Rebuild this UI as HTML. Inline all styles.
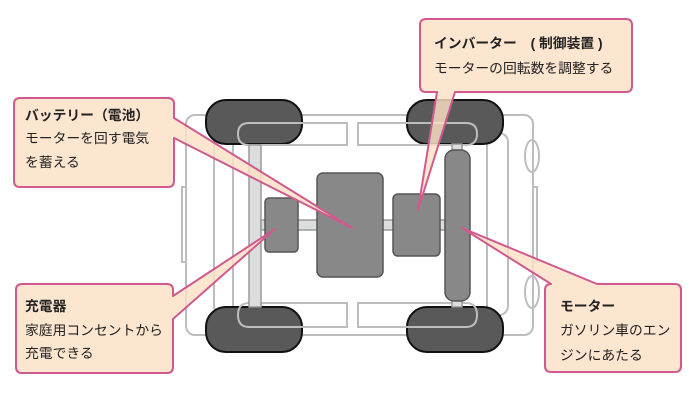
<!DOCTYPE html>
<html><head><meta charset="utf-8"><style>
html,body{margin:0;padding:0;background:#fff;}
svg{display:block;}
text{font-family:"Liberation Sans","Noto Sans CJK JP",sans-serif;font-size:13.8px;fill:#222;}
.b{font-weight:bold;}
</style></head><body>
<svg width="689" height="409" viewBox="0 0 689 409" xmlns="http://www.w3.org/2000/svg">
<g fill="none" stroke="#bdbdbd" stroke-width="2">
<rect x="186" y="115" width="347" height="220" rx="9"/>
<rect x="182" y="187" width="4" height="75"/>
<rect x="533" y="187" width="4" height="75"/>
<rect x="214" y="133" width="19" height="182" rx="9"/>
<rect x="487" y="133" width="21" height="182" rx="9"/>
<ellipse cx="532" cy="156" rx="7" ry="16"/>
<ellipse cx="532" cy="292" rx="7" ry="16"/>
</g>
<g fill="#595959" stroke="#111" stroke-width="2">
<rect x="206" y="100" width="96" height="44" rx="20"/>
<rect x="407" y="100" width="96" height="44" rx="20"/>
<rect x="206" y="307" width="96" height="45" rx="20"/>
<rect x="407" y="307" width="96" height="45" rx="20"/>
</g>
<g fill="none" stroke="#bdbdbd" stroke-width="2">
<path d="M249,123 H347 V145 H249 Q238,145 238,134 Q238,123 249,123Z"/>
<path d="M358,123 H466 Q477,123 477,134 Q477,145 466,145 H358Z"/>
<path d="M249,303 H347 V327 H249 Q238,327 238,315 Q238,303 249,303Z"/>
<path d="M358,303 H466 Q477,303 477,315 Q477,327 466,327 H358Z"/>
</g>
<g fill="#dcdedd" stroke="#9a9a9a" stroke-width="1.5">
<rect x="249" y="145" width="12" height="162"/>
<rect x="261" y="220" width="184" height="10"/>
<rect x="452" y="144" width="10" height="8"/>
<rect x="452" y="299" width="10" height="8"/>
</g>
<g fill="#888" stroke="#555" stroke-width="1.5">
<rect x="265" y="198" width="33" height="54" rx="4"/>
<rect x="317" y="173" width="66" height="104" rx="6"/>
<rect x="393" y="194" width="47" height="62" rx="5"/>
<rect x="445" y="150" width="25" height="151" rx="9"/>
</g>
<g fill="#fde0c6" fill-opacity="0.82" stroke="#d05a8e" stroke-width="2" stroke-linejoin="round">
<path d="M20,98 H168 Q174,98 174,104 V118 L352,228 L174,138 V181 Q174,187 168,187 H20 Q14,187 14,181 V104 Q14,98 20,98Z"/>
<path d="M426,19 H626 Q632,19 632,25 V86 Q632,92 626,92 H455 L418,210 L437,92 H426 Q420,92 420,86 V25 Q420,19 426,19Z"/>
<path d="M22,284 H167 Q173,284 173,290 V296 L275,229 L173,319 V367 Q173,373 167,373 H22 Q16,373 16,367 V290 Q16,284 22,284Z"/>
<path d="M597,284 H675 Q681,284 681,290 V366 Q681,372 675,372 H551 Q545,372 545,366 V290 Q545,284 551,284 L462,228 Z"/>
</g>
<text class="b" x="25" y="120">バッテリー（電池）</text>
<text x="25" y="143">モーターを回す電気</text>
<text x="25" y="167">を蓄える</text>
<text class="b" x="434" y="48">インバーター　( 制御装置 )</text>
<text x="434" y="73">モーターの回転数を調整する</text>
<text class="b" x="25" y="311">充電器</text>
<text x="25" y="335">家庭用コンセントから</text>
<text x="25" y="358">充電できる</text>
<text class="b" x="560" y="311">モーター</text>
<text x="560" y="335">ガソリン車のエン</text>
<text x="560" y="360">ジンにあたる</text>
</svg>
</body></html>
